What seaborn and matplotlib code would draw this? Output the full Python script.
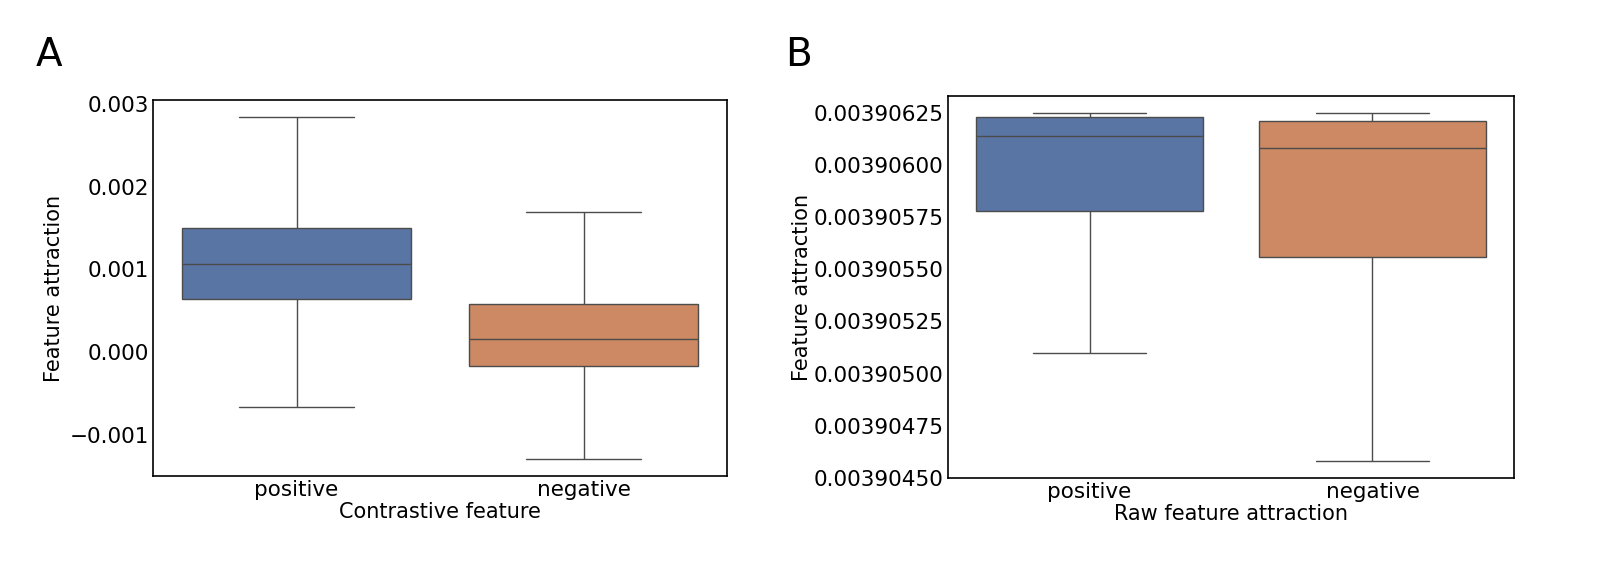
import numpy as np
import pandas as pd
import matplotlib
matplotlib.use("Agg")
import matplotlib.pyplot as plt
from matplotlib.ticker import FormatStrFormatter
import seaborn as sns

# five-number summaries: min, q1, median, q3, max
groups = ["positive", "negative"]
contrastive_pos = [-0.00066, 0.00064, 0.00107, 0.00150, 0.00284]
contrastive_neg = [-0.00129, -0.00017, 0.00016, 0.00058, 0.00169]
raw_pos = [0.00390510, 0.00390578, 0.00390614, 0.00390623, 0.00390625]
raw_neg = [0.00390458, 0.00390556, 0.00390608, 0.00390621, 0.00390625]

ticks_a = [-0.001, 0.000, 0.001, 0.002, 0.003]
ticks_b = [0.00390450, 0.00390475, 0.00390500, 0.00390525,
           0.00390550, 0.00390575, 0.00390600, 0.00390625]

sns.set_theme(style="white")
plt.rcParams['font.family'] = ['DejaVu Sans']
plt.rcParams['text.color'] = 'black'
plt.rcParams['axes.labelcolor'] = 'black'
plt.rcParams['xtick.color'] = 'black'
plt.rcParams['ytick.color'] = 'black'

df_a = pd.DataFrame({"group": ["positive"] * 5 + ["negative"] * 5,
                     "value": contrastive_pos + contrastive_neg})
df_b = pd.DataFrame({"group": ["positive"] * 5 + ["negative"] * 5,
                     "value": raw_pos + raw_neg})

fig = plt.figure(figsize=(16.06, 5.74), dpi=100)
ax_a = fig.add_axes([0.0953, 0.1707, 0.3574, 0.6551])
ax_b = fig.add_axes([0.5903, 0.1672, 0.3524, 0.6656])

palette = sns.color_palette("deep", 2)

sns.boxplot(data=df_a, x="group", y="value", hue="group", order=groups,
            palette=palette, whis=(0, 100), ax=ax_a, legend=False)
ax_a.set_ylim(-0.0015, 0.00305)
ax_a.set_yticks(ticks_a)
ax_a.set_xlabel("Contrastive feature", fontsize=15, labelpad=1)
ax_a.set_ylabel("Feature attraction", fontsize=15, labelpad=4)

sns.boxplot(data=df_b, x="group", y="value", hue="group", order=groups,
            palette=palette, whis=(0, 100), ax=ax_b, legend=False)
ax_b.set_ylim(0.0039045, 0.00390633)
ax_b.set_yticks(ticks_b)
ax_b.yaxis.set_major_formatter(FormatStrFormatter('%.8f'))
ax_b.set_xlabel("Raw feature attraction", fontsize=15, labelpad=1)
ax_b.set_ylabel("Feature attraction", fontsize=15, labelpad=1)

for ax in (ax_a, ax_b):
    ax.tick_params(axis="both", labelsize=15.5, length=0, pad=3)
    for s in ax.spines.values():
        s.set_color("black")
        s.set_linewidth(1.2)

fig.text(0.022, 0.885, "A", fontsize=28)
fig.text(0.489, 0.885, "B", fontsize=28)

fig.savefig("out.png", dpi=100)
